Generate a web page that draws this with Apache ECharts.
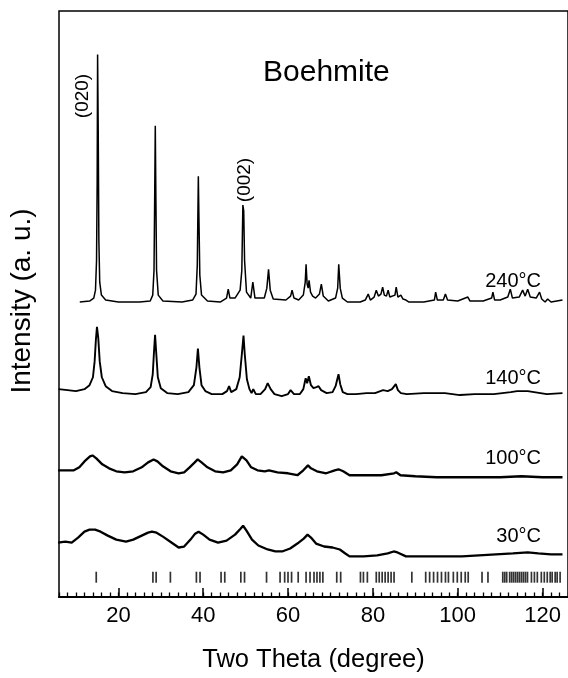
<!DOCTYPE html>
<html>
<head>
<meta charset="utf-8">
<script src="https://cdn.jsdelivr.net/npm/echarts@6/dist/echarts.min.js"></script>
<style>
html,body{margin:0;padding:0;background:#fff;}
#chart{width:568px;height:678px;}
</style>
</head>
<body>
<div id="chart"></div>
<script>
// ---------- data (2θ in degrees, intensity in arbitrary units, offset per pattern) ----------
const xTickValues = [20, 40, 60, 80, 100, 120];
const patternLabels = ['240°C', '140°C', '100°C', '30°C'];
const peakLabels = ['(020)', '(002)'];

const pattern240 = [
  [10.9,298],[13.2,299],[14.2,302],[14.6,310],[14.85,340],[15.0,420],[15.1,548],[15.25,470],[15.4,360],[15.6,318],[16.0,305],[17.0,300],
  [20,298],[25,298],[27.5,299],[28.1,305],[28.4,330],[28.55,400],[28.7,476],[28.85,400],[29.0,330],[29.4,305],[30.5,299],
  [35,298],[37.5,300],[38.3,306],[38.6,335],[38.75,390],[38.85,425],[39.0,380],[39.2,325],[39.6,305],[41,299],
  [44,298],[45.5,302],[45.9,311],[46.3,302],[47.5,302],[48.7,310],[49.1,330],[49.35,396],[49.55,390],[49.75,340],[50.2,308],
  [51.2,302],[51.7,318],[52.2,302],[54.4,302],[55.0,312],[55.4,331],[55.8,310],[56.5,301],[59.5,300],[60.6,304],[60.95,310],[61.4,302],
  [62.5,300],[63.6,305],[64.05,318],[64.25,336],[64.5,316],[64.75,312],[64.95,320],[65.3,308],[65.8,304],[66.5,302],[67.4,306],[67.85,316],[68.3,304],
  [69.5,299],[71.2,302],[71.7,312],[71.95,336],[72.3,312],[72.8,302],[74,298],[77,298],[78.2,300],[78.9,306],[79.4,300],
  [80.3,303],[80.8,310],[81.3,304],[81.9,306],[82.3,313],[82.7,305],[83.2,304],[83.6,310],[84.0,303],[85.2,305],[85.5,313],[85.9,303],
  [86.2,302],[86.6,305],[87.1,301],[87.8,300],[88.5,298],[92,298],[94.5,300],[94.8,308],[95.2,300],[96.6,300],[97.1,306],[97.6,300],
  [100,299],[102.4,303],[102.9,299],[106,299],[108.0,302],[108.3,308],[108.7,300],[110,300],[111.8,303],[112.4,311],[112.9,302],
  [114.5,303],[115.3,310],[115.9,304],[116.5,311],[117.1,303],[118.5,302],[119.3,308],[119.8,301],[120.6,298],[121.2,301],[122,298],[124.7,300]
];

const pattern140 = [
  [5.9,210],[8,209],[10,208],[12,210],[13.2,214],[14.0,222],[14.4,238],[14.7,260],[14.95,273],[15.25,262],[15.6,238],[16.1,222],[17.0,213],[18.5,208],
  [21,206],[24,205],[26.5,207],[27.6,212],[28.1,225],[28.4,248],[28.65,265],[28.9,248],[29.3,222],[30,211],[31.5,206],
  [34,205],[36.5,207],[37.8,214],[38.4,232],[38.75,251],[39.1,232],[39.6,214],[40.5,208],[42,205],[44.5,205],[45.6,208],[46.1,213],[46.6,207],
  [47.8,210],[48.6,222],[49.1,245],[49.5,264],[49.8,245],[50.3,220],[50.9,210],[51.4,206],[51.8,210],[52.4,205],[53.5,205],
  [54.6,210],[55.2,216],[55.9,210],[56.8,205],[58.5,203],[60.0,205],[60.6,209],[61.4,205],[62.8,205],
  [63.6,210],[64.0,218],[64.15,221],[64.5,216],[64.9,223],[65.1,225],[65.4,214],[66.0,211],[66.7,212],[67.2,213],[67.8,209],[69.1,206],
  [70.5,207],[71.2,213],[71.9,225],[72.3,215],[72.9,207],[74,205],[76,205],[78.5,206],[80.5,206],[82.4,209],[83.5,208],[84.5,210],
  [85.4,215],[85.9,209],[86.6,206],[88,205],[92,206],[97,206],[100.5,204],[104,205],[108.5,205],[112.5,207],[114,208],[116.5,208],
  [118,207],[121,205],[124.7,206]
];

const pattern100 = [
  [5.8,128],[7.5,128],[9.5,128],[10.8,131],[12.0,137],[13.3,142],[13.9,143],[14.8,140],[16.2,134],[17.8,130],[19.5,127],[21.5,126],
  [23.5,127],[25.5,131],[27.0,136],[28.3,139],[29.2,137],[30.5,132],[32.3,127],[34.2,125],[35.5,126],[36.8,131],[38.0,136],[38.7,139],
  [39.6,136],[41.0,131],[42.8,127],[44.7,126],[46.5,128],[48.0,134],[49.1,142],[49.5,144],[50.2,138],[51.3,131],[52.8,128],[54.5,127],
  [55.5,128],[57.5,126],[60,125],[62.2,123],[63.6,128],[64.7,133],[65.4,130],[66.8,127],[69.0,125],[71.0,128],[71.9,129],[73.0,127],
  [74.5,123],[78,123],[82,123],[85.0,125],[85.5,126],[86.5,123],[90,122],[95,121],[100,121],[105,121],[110,121],[115,122],[120,121],[124.7,121]
];

const pattern30 = [
  [5.8,55],[7.5,56],[9.0,55],[10.5,60],[12.0,66],[13.2,68],[14.5,68],[15.8,66],[17.5,62],[19.5,58],[21.8,56],[23.5,58],[25.5,62],
  [27.0,65],[27.9,66],[29.0,65],[30.5,61],[32.5,55],[34.2,50],[35.5,51],[37.0,58],[38.1,64],[38.9,66],[40.0,63],[41.5,58],[43.5,55],
  [45.5,57],[47.5,63],[48.8,69],[49.4,72],[50.2,67],[51.5,58],[53.0,52],[55.2,48],[57.0,46],[58.6,46],[60.5,49],[62.2,54],[63.7,59],
  [64.6,63],[65.4,60],[66.6,54],[68.5,51],[70.5,50],[72.2,48],[73.5,44],[74.5,41],[77.8,41],[81.0,42],[83.5,44],[84.9,46],[85.8,45],
  [87.8,41],[92,41],[97,41],[101,41],[105,42],[109,43],[113,44],[116.5,45],[119,44],[122,43],[124.7,43]
];

// reference (JCPDS-like) line positions, 2θ
const referenceLines = [
  14.78,28.14,28.90,32.26,38.39,39.25,44.21,45.08,48.87,49.74,54.93,58.12,59.20,59.99,60.83,62.39,
  64.25,65.18,66.12,66.82,67.51,68.21,71.48,72.41,77.07,77.77,78.70,80.80,81.49,82.19,82.89,83.59,84.29,84.99,
  89.18,92.45,93.38,94.31,95.24,96.17,97.11,97.81,98.97,99.90,100.83,101.77,102.47,105.73,107.13,
  110.62,111.09,111.55,112.25,112.72,113.18,113.65,114.12,114.58,115.05,115.51,115.98,116.45,117.38,118.08,118.77,
  119.71,120.41,121.11,121.80,122.27,122.97,123.44,124.14
];
const referenceLevel = 20;

// ---------- chart ----------
const FONT = '"Liberation Sans", Arial, Helvetica, sans-serif';
const chart = echarts.init(document.getElementById('chart'));

function traceSeries(name, data, width) {
  return {
    name: name, type: 'line', data: data, xAxisIndex: 0, yAxisIndex: 0,
    showSymbol: false, symbol: 'none', smooth: false, silent: true,
    lineStyle: { color: '#000', width: width }, animation: false
  };
}

const option = {
  backgroundColor: '#fff',
  animation: false,
  grid: {
    left: 59, top: 11, right: -6, bottom: 75,
    show: true, borderColor: '#000', borderWidth: 1.5, backgroundColor: 'transparent'
  },
  xAxis: [
    {
      type: 'value', min: 6, max: 126, position: 'bottom',
      axisLine: { show: true, lineStyle: { color: '#000', width: 2 } },
      axisTick: { show: true, inside: true, length: 9, customValues: xTickValues, lineStyle: { color: '#000', width: 1.5 } },
      axisLabel: { show: true, customValues: xTickValues, color: '#000', fontSize: 22, fontFamily: FONT, margin: 8 },
      splitLine: { show: false },
      name: 'Two Theta (degree)', nameLocation: 'middle', nameGap: 50,
      nameTextStyle: { color: '#000', fontSize: 25.5, fontFamily: FONT }
    },
    {
      type: 'value', min: 6, max: 126, interval: 2, position: 'bottom',
      axisLine: { show: false },
      axisTick: { show: true, inside: true, length: 4.5, lineStyle: { color: '#000', width: 1.3 } },
      axisLabel: { show: false },
      splitLine: { show: false }
    }
  ],
  yAxis: {
    type: 'value', min: 0, max: 592, show: false
  },
  series: [
    traceSeries(patternLabels[0], pattern240, 1.5),
    traceSeries(patternLabels[1], pattern140, 1.9),
    traceSeries(patternLabels[2], pattern100, 2.3),
    traceSeries(patternLabels[3], pattern30, 2.3),
    {
      name: 'reference', type: 'scatter', xAxisIndex: 0, yAxisIndex: 0, silent: true,
      symbol: 'rect', symbolSize: [1.7, 11],
      itemStyle: { color: '#000' },
      data: referenceLines.map(function (t) { return [t, referenceLevel]; })
    }
  ],
  graphic: [
    { type: 'text', x: 263, y: 58, style: { text: 'Boehmite', fill: '#000', font: '30px ' + FONT, align: 'left', verticalAlign: 'top' } },
    { type: 'text', x: 541, y: 271, style: { text: patternLabels[0], fill: '#000', font: '20px ' + FONT, align: 'right', verticalAlign: 'top' } },
    { type: 'text', x: 541, y: 368, style: { text: patternLabels[1], fill: '#000', font: '20px ' + FONT, align: 'right', verticalAlign: 'top' } },
    { type: 'text', x: 541, y: 448, style: { text: patternLabels[2], fill: '#000', font: '20px ' + FONT, align: 'right', verticalAlign: 'top' } },
    { type: 'text', x: 541, y: 526, style: { text: patternLabels[3], fill: '#000', font: '20px ' + FONT, align: 'right', verticalAlign: 'top' } },
    { type: 'text', x: 83, y: 96, rotation: Math.PI / 2, style: { text: peakLabels[0], fill: '#000', font: '19px ' + FONT, align: 'center', verticalAlign: 'middle' } },
    { type: 'text', x: 245, y: 180, rotation: Math.PI / 2, style: { text: peakLabels[1], fill: '#000', font: '19px ' + FONT, align: 'center', verticalAlign: 'middle' } },
    { type: 'text', x: 22, y: 301, rotation: Math.PI / 2, style: { text: 'Intensity (a. u.)', fill: '#000', font: '28px ' + FONT, align: 'center', verticalAlign: 'middle' } }
  ]
};
chart.setOption(option);
</script>
</body>
</html>
